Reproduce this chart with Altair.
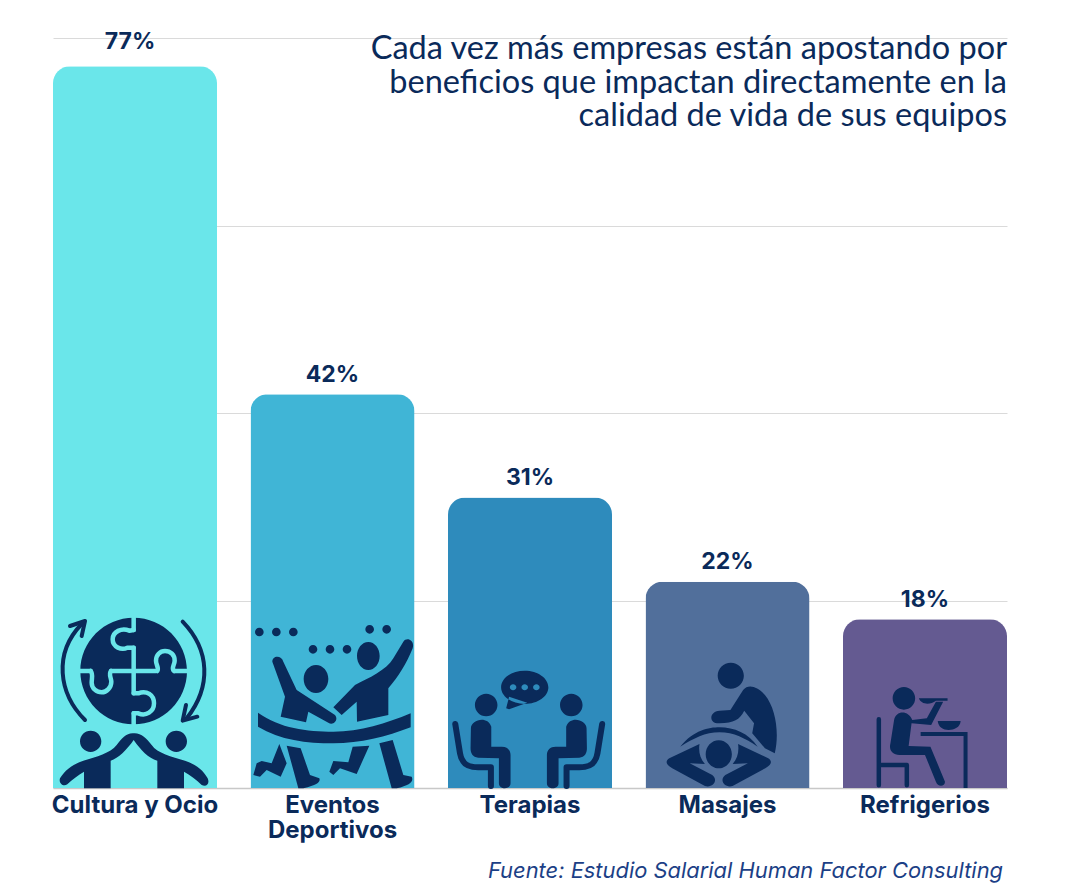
import re
import altair as alt
import pandas as pd

categories = ["Cultura y Ocio", "Eventos Deportivos", "Terapias", "Masajes", "Refrigerios"]
values = [77, 42, 31, 22, 18]
labels = ["77%", "42%", "31%", "22%", "18%"]
bar_colors = ["#6AE6EA", "#40B5D6", "#2E8BBC", "#516F9B", "#645A91"]
title_lines = ["Cada vez más empresas están apostando por",
               "beneficios que impactan directamente en la",
               "calidad de vida de sus equipos"]
source_text = "Fuente: Estudio Salarial Human Factor Consulting"
DARK = "#0A2A5A"


def ell(cx, cy, rx, ry):
    k = 0.5523
    return (f"M {cx-rx} {cy} C {cx-rx} {cy-k*ry} {cx-k*rx} {cy-ry} {cx} {cy-ry} "
            f"C {cx+k*rx} {cy-ry} {cx+rx} {cy-k*ry} {cx+rx} {cy} "
            f"C {cx+rx} {cy+k*ry} {cx+k*rx} {cy+ry} {cx} {cy+ry} "
            f"C {cx-k*rx} {cy+ry} {cx-rx} {cy+k*ry} {cx-rx} {cy} Z ")


def to_px(path, ox, oy, sx, sy):
    toks = re.findall(r"[MLCQZ]|-?\d+\.?\d*", path)
    out, i = [], 0
    for t in toks:
        if t in "MLCQZ":
            out.append(t)
        else:
            out.append(f"{(float(t)-ox)/sx:.2f}" if i % 2 == 0 else f"{(float(t)-oy)/sy:.2f}")
            i += 1
    return " ".join(out)


Z1 = (285, 564, 3, 3)
Z2 = (877.5, 564, 3, 3)
Z3 = (247.5, 444, 2.75, 3)
Z4 = (792, 444, 2.75, 3)
Z5 = (1335, 444, 2.75, 3)

icon_fill = {
    0: (ell(281, 213, 160, 160) + ell(152, 424, 32, 32) + ell(409, 424, 32, 32) +
        "M 281 400 C 260 398 245 415 230 435 C 210 460 170 470 130 482 C 100 492 75 510 60 535 "
        "C 55 550 70 562 82 553 C 95 540 115 525 132 515 L 132 565 L 212 565 L 212 482 "
        "C 235 475 260 450 281 420 C 302 450 325 475 352 482 L 352 565 L 432 565 L 432 515 "
        "C 450 525 470 540 485 555 C 500 562 510 550 503 535 C 490 510 465 492 435 482 "
        "C 395 470 352 460 335 435 C 320 415 302 398 281 400 Z", Z1),
    1: ("".join(ell(x, y, 13, 13) for x, y in [(658, 96), (709, 96), (760, 96), (819, 148), (870, 148),
                                              (921, 148), (989, 88), (1040, 88)]) +
        ell(828, 237, 37, 42) + ell(985, 168, 34, 42) +
        "M 697 185 C 697 165 725 165 730 185 L 770 270 L 885 345 C 897 360 880 378 865 368 "
        "L 805 335 L 798 367 L 722 350 L 735 290 Z "
        "M 1090 125 C 1100 110 1125 120 1118 145 C 1100 190 1075 230 1045 265 L 1045 345 L 951 365 "
        "L 950 305 L 905 345 L 880 322 L 945 255 C 985 235 1040 210 1060 175 Z "
        "M 654 338 C 720 385 800 395 880 395 C 960 395 1040 370 1112 340 L 1112 382 "
        "C 1040 410 960 430 880 430 C 800 430 720 420 654 380 Z "
        "M 718 432 L 740 490 L 722 530 L 680 510 L 660 530 L 640 525 L 650 490 L 665 483 L 695 490 Z "
        "M 740 437 L 782 445 L 810 525 L 838 535 C 842 545 835 555 790 565 L 775 565 Z "
        "M 938 440 L 988 437 L 950 522 L 900 505 L 880 525 L 868 515 L 880 483 L 925 487 Z "
        "M 1018 430 L 1058 420 L 1090 525 L 1115 530 C 1122 545 1110 555 1070 565 L 1055 565 Z", Z2),
    2: (ell(127, 195, 31, 34) + ell(361, 195, 31, 34) + ell(233, 142, 65, 50) +
        "M 85 265 C 85 240 130 225 141 260 L 141 320 L 170 320 C 185 320 194 330 194 345 L 194 430 "
        "C 194 450 162 450 162 430 L 162 355 L 105 353 C 90 352 84 340 84 325 Z "
        "M 403 265 C 403 240 358 225 347 260 L 347 320 L 318 320 C 303 320 294 330 294 345 L 294 430 "
        "C 294 450 326 450 326 430 L 326 355 L 383 353 C 398 352 404 340 404 325 Z "
        "M 190 170 L 182 205 L 190 208 L 240 188 Z", Z3),
    3: (ell(801, 107, 36, 39) + ell(768, 343, 36, 42) +
        "M 835 150 C 850 130 875 140 895 165 C 925 205 935 280 922 340 L 895 325 L 860 280 L 865 250 "
        "L 838 212 C 825 240 810 248 770 250 C 740 252 740 215 770 212 L 800 210 Z "
        "M 662 320 C 700 270 740 262 770 262 C 810 262 850 280 875 320 C 840 295 810 277 770 277 "
        "C 730 277 700 295 662 320 Z "
        "M 632 355 L 715 312 C 712 335 716 355 730 372 L 688 370 L 750 405 C 768 420 752 445 730 438 "
        "L 640 385 C 620 372 622 362 632 355 Z "
        "M 904 355 L 821 312 C 824 335 820 355 806 372 L 848 370 L 786 405 C 768 420 784 445 806 438 "
        "L 896 385 C 916 372 914 362 904 355 Z", Z4),
    4: (ell(1277, 175, 31, 34) +
        "M 1250 240 C 1255 210 1290 210 1300 240 L 1340 235 L 1365 185 L 1385 185 L 1352 255 L 1298 250 "
        "L 1290 318 L 1350 320 L 1390 425 C 1390 440 1370 442 1365 425 L 1335 345 L 1265 345 "
        "C 1245 345 1235 330 1240 310 Z "
        "M 1318 175 L 1397 175 L 1397 182 L 1365 182 C 1350 195 1325 195 1318 175 Z "
        "M 1370 243 L 1433 243 C 1432 262 1415 270 1400 270 C 1385 270 1372 262 1370 243 Z "
        "M 1323 276 L 1452 276 L 1452 444 L 1441 444 L 1441 288 L 1323 288 Z", Z5),
}

# (bar index, path, colour, stroke width in px, zoom frame)
icon_strokes = [
    (0, "M 135 360 C 55 280 40 160 125 72", DARK, 4, Z1),
    (0, "M 90 78 L 135 63 L 125 108", DARK, 4, Z1),
    (0, "M 428 65 C 510 150 515 260 440 355", DARK, 4, Z1),
    (0, "M 438 315 L 428 362 L 472 350", DARK, 4, Z1),
    (0, "M 281 50 L 281 90 M 281 143 L 281 280 M 281 340 L 281 375", bar_colors[0], 4.5, Z1),
    (0, "M 120 213 L 152 213 M 213 213 L 348 213 M 405 213 L 440 213", bar_colors[0], 4.5, Z1),
    (0, "M 281 90 L 268 92 C 245 82 218 95 218 118 C 218 142 245 152 262 143 L 281 143", bar_colors[0], 4.5, Z1),
    (0, "M 352 213 C 358 205 348 195 348 182 C 348 165 360 153 375 153 C 392 153 404 165 404 182 "
        "C 404 195 392 205 402 213", bar_colors[0], 4.5, Z1),
    (0, "M 152 213 C 160 222 155 235 155 248 C 155 265 170 277 185 277 C 200 277 214 262 214 245 "
        "C 214 235 205 222 213 213", bar_colors[0], 4.5, Z1),
    (0, "M 281 280 L 295 280 C 320 270 342 285 342 310 C 342 335 318 350 295 340 L 281 340", bar_colors[0], 4.5, Z1),
    (2, "M 42 252 L 55 340 C 60 375 80 382 105 382 L 140 382 L 140 438", DARK, 6, Z3),
    (2, "M 446 252 L 433 340 C 428 375 408 382 383 382 L 348 382 L 348 438", DARK, 6, Z3),
    (4, "M 1208 238 L 1208 436 M 1208 375 L 1285 375 L 1285 436", DARK, 4.5, Z5),
]
icon_dots = [
    (2, ell(201, 142, 9, 9) + ell(233, 142, 9, 9) + ell(265, 142, 9, 9), bar_colors[2], Z3),
]

df = pd.DataFrame({"cat": categories, "val": values, "lab": labels, "col": bar_colors})
fill_df = pd.DataFrame([{"cat": categories[i], "val": 0, "shape": to_px(p, *z), "color": DARK}
                        for i, (p, z) in icon_fill.items()] +
                       [{"cat": categories[i], "val": 0, "shape": to_px(p, *z), "color": c}
                        for i, p, c, z in icon_dots])
stroke_df = pd.DataFrame([{"cat": categories[i], "val": 0, "shape": to_px(p, *z), "color": c, "sw": w}
                          for i, p, c, w, z in icon_strokes])

W, H = 954, 750
x = alt.X("cat:N", sort=categories, title=None,
          scale=alt.Scale(paddingInner=0.1696, paddingOuter=0),
          axis=alt.Axis(labelAngle=0, ticks=False, domainColor="#C8C8C8", domainWidth=1.5,
                        labelFont="Inter", labelFontSize=24, labelFontWeight=700, labelColor=DARK,
                        labelPadding=5, labelLineHeight=25, labelLimit=300, labelBaseline="top",
                        labelExpr="datum.label == 'Eventos Deportivos' ? ['Eventos','Deportivos'] : datum.label"))
y = alt.Y("val:Q", title=None, scale=alt.Scale(domain=[0, 80], nice=False),
          axis=alt.Axis(values=[0, 20, 40, 60, 80], labels=False, ticks=False, domain=False,
                        gridColor="#DADADA", gridWidth=1))

bars = alt.Chart(df).mark_bar(cornerRadiusTopLeft=17, cornerRadiusTopRight=17).encode(
    x=x, y=y, color=alt.Color("col:N", scale=None, legend=None))
vals_top = alt.Chart(df[df.val > 50]).mark_text(font="Inter", fontSize=23, fontWeight=700, color=DARK,
                                                baseline="bottom", dy=-12, dx=-5).encode(x=x, y=y, text="lab:N")
vals = alt.Chart(df[df.val <= 50]).mark_text(font="Inter", fontSize=23, fontWeight=700, color=DARK,
                                             baseline="bottom", dy=-7.5).encode(x=x, y=y, text="lab:N")
fills = alt.Chart(fill_df).mark_point(filled=True, strokeWidth=0, opacity=1).encode(
    x=x, y=y, shape=alt.Shape("shape:N", scale=None, legend=None), size=alt.value(4),
    fill=alt.Fill("color:N", scale=None, legend=None))
strokes = alt.Chart(stroke_df).mark_point(filled=False, opacity=1, strokeCap="round", strokeJoin="round").encode(
    x=x, y=y, shape=alt.Shape("shape:N", scale=None, legend=None), size=alt.value(4),
    stroke=alt.Stroke("color:N", scale=None, legend=None),
    strokeWidth=alt.StrokeWidth("sw:Q", scale=None, legend=None))

title_layers = [alt.Chart(pd.DataFrame({"t": [t]})).mark_text(
    font="Lato", fontSize=32.5, color=DARK, align="right", baseline="alphabetic").encode(
    x=alt.value(W), y=alt.value(py), text="t:N") for t, py in zip(title_lines, [21, 55, 88])]
source = alt.Chart(pd.DataFrame({"t": [source_text]})).mark_text(
    font="Inter", fontSize=21.9, fontStyle="italic", color="#1C3F86", align="right", baseline="alphabetic").encode(
    x=alt.value(W - 4), y=alt.value(840), text="t:N")

chart = alt.layer(bars, vals_top, vals, fills, strokes, *title_layers, source).properties(
    width=W, height=H, padding={"left": 45, "top": 30, "right": 50, "bottom": 95},
    autosize=alt.AutoSizeParams(type="none"),
    background="#FFFFFF",
).configure_view(stroke=None).resolve_scale(x="shared", y="shared")

chart.save("out.html", embed_options={"renderer": "svg", "actions": False})
